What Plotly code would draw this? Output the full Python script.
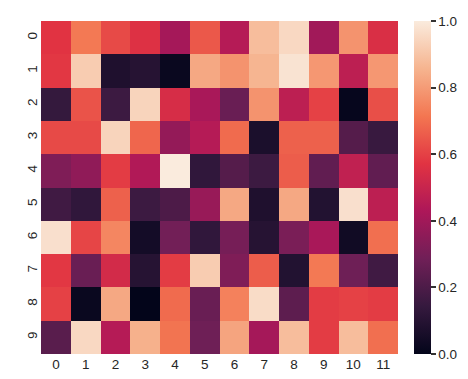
import plotly.graph_objects as go

row_labels = ["0", "1", "2", "3", "4", "5", "6", "7", "8", "9"]
col_labels = ["0", "1", "2", "3", "4", "5", "6", "7", "8", "9", "10", "11"]

row0 = [0.57, 0.72, 0.62, 0.56, 0.41, 0.65, 0.45, 0.88, 0.95, 0.40, 0.78, 0.55]
row1 = [0.58, 0.92, 0.08, 0.10, 0.02, 0.83, 0.78, 0.86, 0.98, 0.79, 0.47, 0.79]
row2 = [0.14, 0.64, 0.16, 0.94, 0.54, 0.42, 0.27, 0.78, 0.47, 0.60, 0.01, 0.63]
row3 = [0.62, 0.62, 0.94, 0.68, 0.37, 0.45, 0.69, 0.07, 0.67, 0.67, 0.22, 0.15]
row4 = [0.32, 0.36, 0.59, 0.44, 1.00, 0.13, 0.22, 0.16, 0.66, 0.25, 0.48, 0.25]
row5 = [0.17, 0.13, 0.67, 0.16, 0.20, 0.38, 0.83, 0.08, 0.83, 0.09, 0.97, 0.47]
row6 = [0.97, 0.61, 0.75, 0.05, 0.29, 0.13, 0.30, 0.10, 0.31, 0.42, 0.04, 0.70]
row7 = [0.58, 0.27, 0.53, 0.10, 0.59, 0.92, 0.32, 0.66, 0.09, 0.72, 0.28, 0.17]
row8 = [0.60, 0.02, 0.83, 0.00, 0.69, 0.27, 0.74, 0.96, 0.24, 0.59, 0.60, 0.59]
row9 = [0.23, 0.95, 0.45, 0.85, 0.71, 0.28, 0.82, 0.41, 0.88, 0.59, 0.88, 0.70]

values = [row0, row1, row2, row3, row4, row5, row6, row7, row8, row9]

rocket = [
    [0.0, "#03051a"],
    [0.143, "#35193e"],
    [0.286, "#701f57"],
    [0.429, "#ad1759"],
    [0.571, "#e13342"],
    [0.714, "#f37651"],
    [0.857, "#f6b48f"],
    [1.0, "#faebdd"],
]

font_family = "Liberation Sans, Arial, sans-serif"
tick_color = "#262626"

fig = go.Figure(
    go.Heatmap(
        z=values,
        x=col_labels,
        y=row_labels,
        colorscale=rocket,
        zmin=0,
        zmax=1,
        xgap=0,
        ygap=0,
        colorbar=dict(
            x=(406 - 33) / 357,
            xanchor="left",
            xref="paper",
            y=0.5,
            yanchor="middle",
            len=1,
            lenmode="fraction",
            thickness=17,
            thicknessmode="pixels",
            xpad=0,
            ypad=0,
            outlinewidth=0,
            ticks="outside",
            ticklen=5,
            tickwidth=1.5,
            tickcolor="#333333",
            tickvals=[0, 0.2, 0.4, 0.6, 0.8, 1.0],
            ticktext=["0.0", "0.2", "0.4", "0.6", "0.8", "1.0"],
            tickfont=dict(family=font_family, size=13.5, color=tick_color),
        ),
    )
)

fig.update_layout(
    width=468,
    height=379,
    margin=dict(l=33, r=78, t=13, b=33),
    paper_bgcolor="white",
    plot_bgcolor="white",
    font=dict(family=font_family, size=13.5, color=tick_color),
    xaxis=dict(
        type="category",
        showgrid=False,
        zeroline=False,
        ticks="",
        tickfont=dict(family=font_family, size=13.5, color=tick_color),
    ),
    yaxis=dict(
        type="category",
        autorange="reversed",
        showgrid=False,
        zeroline=False,
        ticks="",
        tickangle=-90,
        tickfont=dict(family=font_family, size=13.5, color=tick_color),
    ),
)

fig.write_html("out.html")
